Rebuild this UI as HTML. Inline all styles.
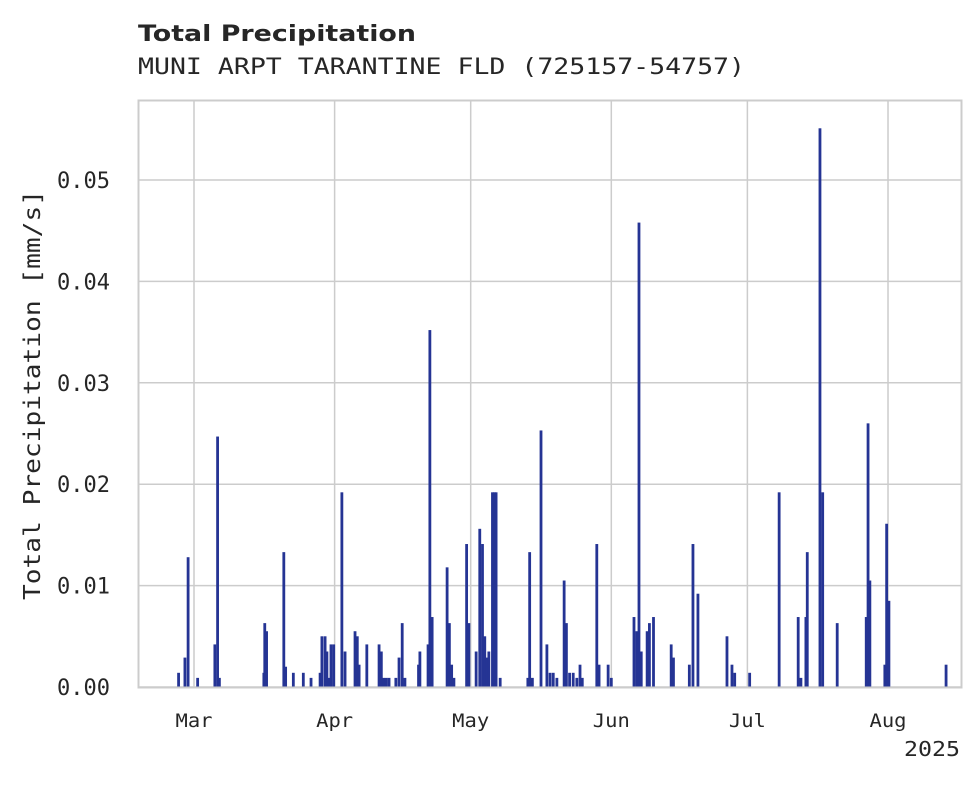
<!DOCTYPE html>
<html><head><meta charset="utf-8"><style>
body{margin:0;background:#fff;width:980px;height:783px;overflow:hidden}
svg text{font-family:"DejaVu Sans Mono","Liberation Mono",monospace;fill:#262626}
</style></head><body>
<svg width="980" height="783">
<text x="138" y="41" textLength="278" lengthAdjust="spacingAndGlyphs" style="font-family:'DejaVu Sans','Liberation Sans',sans-serif;font-weight:bold;font-size:22px">Total Precipitation</text>
<text x="138" y="74" textLength="607" lengthAdjust="spacingAndGlyphs" style="font-size:22px">MUNI ARPT TARANTINE FLD (725157-54757)</text>
<g id="grid"></g>
<g id="bars"></g>
<rect x="138.5" y="100.5" width="823" height="587" fill="none" stroke="#cccccc" stroke-width="2"/>
<g id="yticks"></g>
<g id="xticks"></g>
<text x="960" y="756" text-anchor="end" textLength="56" lengthAdjust="spacingAndGlyphs" style="font-size:20px">2025</text>
<text transform="translate(40,395) rotate(-90)" text-anchor="middle" textLength="410" lengthAdjust="spacingAndGlyphs" style="font-size:23px">Total Precipitation [mm/s]</text>
</svg>
<script>
// days since Mar 1 2025, and precipitation values (mm/s)
const days=[-3.4,-2,-1.3,0.8,4.6,5.2,5.6,15.4,15.6,16,19.8,20.2,21.9,24.1,25.8,27.8,28.2,28.9,29.3,29.8,30.2,30.8,32.6,33.3,35.5,36,36.4,38.1,40.8,41.3,41.8,42.4,43,44.5,45.2,45.9,46.5,49.5,49.8,51.6,52,52.5,55.8,56.3,56.8,57.3,60.1,60.6,62.2,63,63.6,64.1,64.6,65,65.8,66.2,66.6,67.5,73.6,74,74.6,76.5,77.8,78.5,79.2,80,81.6,82.1,82.8,83.6,84.4,85.1,85.6,88.8,89.3,91.3,92,97,97.6,98.1,98.6,99.9,100.4,101.3,105.2,105.7,109.2,110,111.1,117.5,118.6,119.2,122.5,129,133.2,133.8,134.9,135.2,138,138.6,141.8,148.2,148.6,149,152.3,152.7,153.2,165.8];
const values=[0.0014,0.0029,0.0128,0.0009,0.0042,0.0247,0.0009,0.0014,0.0063,0.0055,0.0133,0.002,0.0014,0.0014,0.0009,0.0014,0.005,0.005,0.0035,0.0009,0.0042,0.0042,0.0192,0.0035,0.0055,0.005,0.0022,0.0042,0.0042,0.0035,0.0009,0.0009,0.0009,0.0009,0.0029,0.0063,0.0009,0.0022,0.0035,0.0042,0.0352,0.0069,0.0118,0.0063,0.0022,0.0009,0.0141,0.0063,0.0035,0.0156,0.0141,0.005,0.0029,0.0035,0.0192,0.0192,0.0192,0.0009,0.0009,0.0133,0.0009,0.0253,0.0042,0.0014,0.0014,0.0009,0.0105,0.0063,0.0014,0.0014,0.0009,0.0022,0.0009,0.0141,0.0022,0.0022,0.0009,0.0069,0.0055,0.0458,0.0035,0.0055,0.0063,0.0069,0.0042,0.0029,0.0022,0.0141,0.0092,0.005,0.0022,0.0014,0.0014,0.0192,0.0069,0.0009,0.0069,0.0133,0.0551,0.0192,0.0063,0.0069,0.026,0.0105,0.0022,0.0161,0.0085,0.0022];
const yTicks=[0,0.01,0.02,0.03,0.04,0.05];
const yTickLabels=["0.00","0.01","0.02","0.03","0.04","0.05"];
const xTickDays=[0,31,61,92,122,153];
const xTickLabels=["Mar","Apr","May","Jun","Jul","Aug"];
const NS="http://www.w3.org/2000/svg";
const xs=d=>194+d*4.536;
const ys=v=>687-v*10140;
function mk(t,a,p){const e=document.createElementNS(NS,t);for(const k in a)e.setAttribute(k,a[k]);p.appendChild(e);return e;}
const grid=document.getElementById('grid'),bars=document.getElementById('bars'),yt=document.getElementById('yticks'),xt=document.getElementById('xticks');
yTicks.forEach((v,i)=>{
 const l=mk('line',{x1:138,x2:962,y1:ys(v),y2:ys(v),stroke:'#cccccc','stroke-width':1.5},grid);
 
 
 const t=mk('text',{x:110,y:ys(v)+8,'text-anchor':'end','font-size':22,textLength:53,lengthAdjust:'spacingAndGlyphs'},yt);t.textContent=yTickLabels[i];
 
 
});
xTickDays.forEach((d,i)=>{
 const l=mk('line',{x1:xs(d),x2:xs(d),y1:100,y2:687,stroke:'#cccccc','stroke-width':1.5},grid);
 
 
 const t=mk('text',{x:xs(d),y:727,'text-anchor':'middle','font-size':19,textLength:37,lengthAdjust:'spacingAndGlyphs'},xt);t.textContent=xTickLabels[i];
 
 
});
days.forEach((d,i)=>{
 const y=ys(values[i]);
 const r=mk('rect',{x:xs(d)-1.4,y:y,width:2.8,height:687-y,fill:'#253494'},bars);
 
 
});
</script>
</body></html>
